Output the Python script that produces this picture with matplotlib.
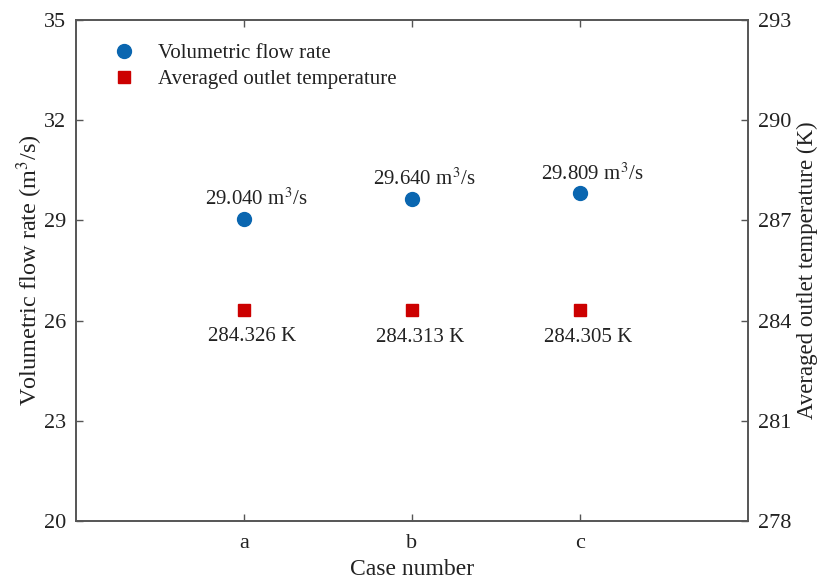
import matplotlib.pyplot as plt

plt.rcParams['font.family'] = ['Liberation Serif', 'DejaVu Serif']
plt.rcParams['mathtext.fontset'] = 'stix'

cases = ['a', 'b', 'c']
flow_rate = [29.040, 29.640, 29.809]
outlet_temp = [284.326, 284.313, 284.305]
left_ticks = [20, 23, 26, 29, 32, 35]
right_ticks = [278, 281, 284, 287, 290, 293]

blue = '#0a66b0'
red = '#cc0000'
axis_col = '#555555'
text_col = '#222222'

fig = plt.figure(figsize=(8.21, 5.83), dpi=100)
ax = fig.add_axes([0.0926, 0.1063, 0.8184, 0.8594])
ax2 = ax.twinx()

x = list(range(1, len(cases) + 1))
h1, = ax.plot(x, flow_rate, 'o', color=blue, markersize=10, linestyle='none',
              label='Volumetric flow rate')
h2, = ax2.plot(x, outlet_temp, 's', color=red, markersize=8.5, linestyle='none',
               label='Averaged outlet temperature')

for xi, v in zip(x, flow_rate):
    ax.annotate(f'{v:.3f} m$^3$/s', (xi, v), xytext=(9, 6.5), textcoords='offset points',
                ha='center', va='bottom', fontsize=15, color=text_col)
for xi, v in zip(x, outlet_temp):
    ax2.annotate(f'{v:.3f} K', (xi, v), xytext=(6, -12.5), textcoords='offset points',
                 ha='center', va='top', fontsize=15, color=text_col)

ax.set_xlim(0, 4)
ax.set_xticks(x)
ax.set_xticklabels(cases)
ax.set_ylim(20, 35)
ax.set_yticks(left_ticks)
ax2.set_ylim(278, 293)
ax2.set_yticks(right_ticks)

ax.set_xlabel('Case number', fontsize=17, color=text_col, labelpad=5)
ax.set_ylabel('Volumetric flow rate (m$^3$/s)', fontsize=17.5, color=text_col, labelpad=-1)
ax2.set_ylabel('Averaged outlet temperature (K)', fontsize=16.5, color=text_col, labelpad=4)

for a in (ax, ax2):
    for s in a.spines.values():
        s.set_color(axis_col)
        s.set_linewidth(1.2)
ax.tick_params(axis='both', direction='in', length=5, width=1, color=axis_col,
               labelsize=16, labelcolor=text_col, top=True, right=False, pad=7)
ax.tick_params(axis='x', pad=9)
ax2.tick_params(axis='y', direction='in', length=5, width=1, color=axis_col,
                labelsize=16, labelcolor=text_col, pad=7)

ax.legend(handles=[h1, h2], loc='upper left', bbox_to_anchor=(0.013, 0.99), frameon=False,
          fontsize=15, handletextpad=0.6, labelspacing=0.3, labelcolor=text_col)

fig.savefig('out.png', dpi=100)
